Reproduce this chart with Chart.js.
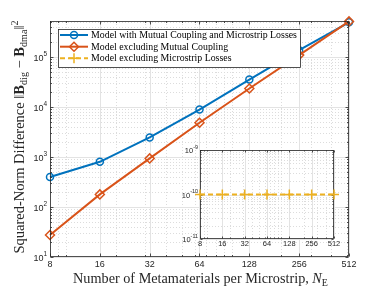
<!DOCTYPE html>
<html lang="en">
<head>
<meta charset="UTF-8">
<title>Squared-norm difference vs. metamaterials per microstrip</title>
<script src="https://cdn.jsdelivr.net/npm/chart.js@4.4.0/dist/chart.umd.min.js"></script>
<style>
    html, body { margin: 0; padding: 0; background: #fff; }
    #wrap { position: relative; width: 385px; height: 289px; }
    #main { position: absolute; left: 0; top: 0; }
    #inset { position: absolute; left: 175px; top: 140px; }
</style>
</head>
<body>
<div id="wrap">
    <canvas id="main" width="385" height="289"></canvas>
    <canvas id="inset" width="170" height="115"></canvas>
</div>
<script>
// data
const elements = [8, 16, 32, 64, 128, 256, 512];
const withCouplingAndLosses = [400, 805, 2470, 8950, 35700, 138000, 500000];
const noCoupling = [27.5, 179, 940, 4860, 23600, 110000, 520000];
const noLosses = [1e-10, 1e-10, 1e-10, 1e-10, 1e-10, 1e-10, 1e-10];
const seriesNames = [
    'Model with Mutual Coupling and Microstrip Losses',
    'Model excluding Mutual Coupling',
    'Model excluding Microstrip Losses'
];
const xTickValues = [8, 16, 32, 64, 128, 256, 512];
const mainYExponents = [1, 2, 3, 4, 5];
const insetYExponents = [-11, -10, -9];

const BLUE = '#0072BD', ORANGE = '#D95319', YELLOW = '#EDB120';
const AXIS = '#262626';
const SANS = '"Liberation Sans", Arial, sans-serif';
const SERIF = '"Liberation Serif", "DejaVu Serif", serif';

const toPoints = ys => elements.map((x, i) => ({ x: x, y: ys[i] }));

// log-spaced minor values (m x 10^k), skipping majors
function minorLog(min, max, skip) {
    const out = [];
    for (let k = Math.floor(Math.log10(min)); k <= Math.ceil(Math.log10(max)); k++) {
        for (let m = 1; m <= 9; m++) {
            const v = m * Math.pow(10, k);
            if (v > min * 1.0001 && v < max * 0.9999 && !skip.some(s => Math.abs(s - v) / v < 1e-6)) out.push(v);
        }
    }
    return out;
}

function seg(ctx, x1, y1, x2, y2) {
    ctx.beginPath(); ctx.moveTo(x1, y1); ctx.lineTo(x2, y2); ctx.stroke();
}

function drawGrid(ctx, chart, xMinor, yMinor, yMajor) {
    const a = chart.chartArea, xs = chart.scales.x, ys = chart.scales.y;
    ctx.save();
    ctx.lineWidth = 1;
    ctx.strokeStyle = '#dcdcdc';
    ctx.setLineDash([1, 2]);
    xMinor.forEach(v => { const p = Math.round(xs.getPixelForValue(v)) + 0.5; seg(ctx, p, a.top, p, a.bottom); });
    yMinor.forEach(v => { const p = Math.round(ys.getPixelForValue(v)) + 0.5; seg(ctx, a.left, p, a.right, p); });
    ctx.setLineDash([]);
    ctx.strokeStyle = '#e3e3e3';
    xTickValues.forEach(v => { const p = Math.round(xs.getPixelForValue(v)) + 0.5; seg(ctx, p, a.top, p, a.bottom); });
    yMajor.forEach(v => { const p = Math.round(ys.getPixelForValue(v)) + 0.5; seg(ctx, a.left, p, a.right, p); });
    ctx.restore();
}

function drawBoxAndTicks(ctx, chart, xMinor, yMinor, yMajor, len) {
    const a = chart.chartArea, xs = chart.scales.x, ys = chart.scales.y;
    const L = Math.round(a.left) + 0.5, R = Math.round(a.right) - 0.5;
    const T = Math.round(a.top) + 0.5, B = Math.round(a.bottom) - 0.5;
    ctx.save();
    ctx.strokeStyle = AXIS;
    ctx.lineWidth = 0.8;
    ctx.strokeRect(L, T, R - L, B - T);
    const tick = (vals, size) => {
        vals.forEach(v => {
            const p = Math.round(xs.getPixelForValue(v)) + 0.5;
            seg(ctx, p, B, p, B - size); seg(ctx, p, T, p, T + size);
        });
    };
    const ytick = (vals, size) => {
        vals.forEach(v => {
            const p = Math.round(ys.getPixelForValue(v)) + 0.5;
            seg(ctx, L, p, L + size, p); seg(ctx, R, p, R - size, p);
        });
    };
    tick(xTickValues, len); tick(xMinor, len / 2);
    ytick(yMajor, len); ytick(yMinor, len / 2);
    ctx.restore();
}

// "10^e" tick label, right aligned at x
function drawPow(ctx, exp, x, y, size) {
    const expSize = size * 0.72;
    ctx.font = expSize + 'px ' + SANS;
    const ew = ctx.measureText(String(exp)).width;
    ctx.font = size + 'px ' + SANS;
    const bw = ctx.measureText('10').width;
    ctx.textBaseline = 'middle';
    ctx.textAlign = 'left';
    ctx.fillText('10', x - ew - bw, y + size * 0.15);
    ctx.font = expSize + 'px ' + SANS;
    ctx.fillText(String(exp), x - ew, y - size * 0.35);
}

// rich text with sub/superscripts
function segFont(s, size) {
    const sz = (s.sub || s.sup) ? size * 0.7 : size;
    return (s.it ? 'italic ' : '') + (s.b ? 'bold ' : '') + sz + 'px ' + SERIF;
}
function richWidth(ctx, segs, size) {
    let w = 0;
    segs.forEach(s => { ctx.font = segFont(s, size); w += ctx.measureText(s.t).width; });
    return w;
}
function drawRich(ctx, segs, x, y, size) {
    let cx = x;
    segs.forEach(s => {
        ctx.font = segFont(s, size);
        const dy = s.sub ? size * 0.22 : s.sup ? -size * 0.42 : 0;
        ctx.fillText(s.t, cx, y + dy);
        cx += ctx.measureText(s.t).width;
    });
}
function fitSize(ctx, segs, target) {
    return 12 * target / richWidth(ctx, segs, 12);
}

const xLabel = [
    { t: 'Number of Metamaterials per Microstrip, ' },
    { t: 'N', it: true }, { t: 'E', sub: true }
];
const yLabel = [
    { t: 'Squared-Norm Difference \u2016' },
    { t: 'B', b: true }, { t: 'dig', sub: true },
    { t: ' \u2212 ' },
    { t: 'B', b: true }, { t: 'dma', sub: true },
    { t: '\u2016' }, { t: '2', sup: true }
];

function drawMarker(ctx, style, color, x, y) {
    ctx.save();
    ctx.strokeStyle = color;
    ctx.lineWidth = 1.5;
    ctx.setLineDash([]);
    ctx.beginPath();
    if (style === 'circle') {
        ctx.arc(x, y, 3.5, 0, Math.PI * 2);
    } else if (style === 'rectRot') {
        ctx.moveTo(x, y - 4.5); ctx.lineTo(x + 4.5, y); ctx.lineTo(x, y + 4.5); ctx.lineTo(x - 4.5, y); ctx.closePath();
    } else {
        ctx.moveTo(x - 5, y); ctx.lineTo(x + 5, y); ctx.moveTo(x, y - 5); ctx.lineTo(x, y + 5);
    }
    ctx.stroke();
    ctx.restore();
}

const legendItems = [
    { name: seriesNames[0], color: BLUE, style: 'circle', dash: [] },
    { name: seriesNames[1], color: ORANGE, style: 'rectRot', dash: [] },
    { name: seriesNames[2], color: YELLOW, style: 'cross', dash: [5, 3] }
];

const mainYMin = 10, mainYMax = 5.3e5;
const mainYMajor = mainYExponents.map(e => Math.pow(10, e));
const mainXMinor = minorLog(8, 512, xTickValues);
const mainYMinor = minorLog(mainYMin, mainYMax, mainYMajor);

const mainDecor = {
    id: 'mainDecor',
    beforeDatasetsDraw(chart) {
        drawGrid(chart.ctx, chart, mainXMinor, mainYMinor, mainYMajor);
    },
    afterDatasetsDraw(chart) {
        const ctx = chart.ctx;
        drawBoxAndTicks(ctx, chart, mainXMinor, mainYMinor, mainYMajor, 3);

        // legend
        ctx.save();
        ctx.fillStyle = '#fff';
        ctx.fillRect(58.5, 29.5, 242, 38);
        ctx.strokeStyle = AXIS;
        ctx.lineWidth = 0.8;
        ctx.strokeRect(58.5, 29.5, 242, 38);
        const lsize = fitSize(ctx, [{ t: seriesNames[0] }], 206);
        const rows = [35, 46.7, 58.3];
        legendItems.forEach((it, i) => {
            ctx.strokeStyle = it.color;
            ctx.lineWidth = 2;
            ctx.setLineDash(it.dash);
            seg(ctx, 60, rows[i], 88, rows[i]);
            drawMarker(ctx, it.style, it.color, 74, rows[i]);
            ctx.fillStyle = '#000';
            ctx.textBaseline = 'middle';
            ctx.textAlign = 'left';
            ctx.font = lsize + 'px ' + SERIF;
            ctx.fillText(it.name, 91, rows[i] + 0.5);
        });
        ctx.restore();
    },
    afterDraw(chart) {
        const ctx = chart.ctx;
        ctx.save();
        ctx.fillStyle = '#262626';
        // x tick labels
        ctx.font = '9px ' + SANS;
        ctx.textAlign = 'center';
        ctx.textBaseline = 'middle';
        xTickValues.forEach(v => ctx.fillText(String(v), chart.scales.x.getPixelForValue(v), 265));
        // y tick labels
        mainYMajor.forEach((v, i) => drawPow(ctx, mainYExponents[i], 47, chart.scales.y.getPixelForValue(v), 9));
        // axis titles
        ctx.textAlign = 'left';
        ctx.textBaseline = 'alphabetic';
        const xs = fitSize(ctx, xLabel, 255);
        drawRich(ctx, xLabel, 200.5 - richWidth(ctx, xLabel, xs) / 2, 283, xs);
        const ysz = fitSize(ctx, yLabel, 233);
        ctx.translate(24, 137);
        ctx.rotate(-Math.PI / 2);
        drawRich(ctx, yLabel, -richWidth(ctx, yLabel, ysz) / 2, 0, ysz);
        ctx.restore();
    }
};

new Chart(document.getElementById('main'), {
    type: 'line',
    data: {
        datasets: [{
            label: seriesNames[0],
            data: toPoints(withCouplingAndLosses),
            borderColor: BLUE,
            borderWidth: 2,
            pointStyle: 'circle',
            pointRadius: 3.5,
            pointBorderWidth: 1.5,
            pointBorderColor: BLUE,
            pointBackgroundColor: 'rgba(0,0,0,0)',
            order: 2,
            clip: false
        }, {
            label: seriesNames[1],
            data: toPoints(noCoupling),
            borderColor: ORANGE,
            borderWidth: 2,
            pointStyle: 'rectRot',
            pointRadius: 4.5,
            pointBorderWidth: 1.5,
            pointBorderColor: ORANGE,
            pointBackgroundColor: 'rgba(0,0,0,0)',
            order: 1,
            clip: false
        }]
    },
    options: {
        responsive: false,
        animation: false,
        events: [],
        layout: { padding: { left: 50, top: 21, right: 36, bottom: 32 } },
        scales: {
            x: { type: 'logarithmic', min: 8, max: 512, display: false },
            y: { type: 'logarithmic', min: mainYMin, max: mainYMax, display: false }
        },
        plugins: { legend: { display: false }, tooltip: { enabled: false } }
    },
    plugins: [mainDecor]
});

// inset: model without microstrip losses
const insetYMajor = insetYExponents.map(e => Math.pow(10, e));
const insetYMinor = minorLog(1e-11, 1e-9, insetYMajor);

const insetDecor = {
    id: 'insetDecor',
    beforeDatasetsDraw(chart) {
        const ctx = chart.ctx, a = chart.chartArea;
        ctx.save();
        ctx.fillStyle = '#fff';
        ctx.fillRect(a.left, a.top, a.right - a.left, a.bottom - a.top);
        ctx.restore();
        drawGrid(ctx, chart, mainXMinor, insetYMinor, insetYMajor);
        drawBoxAndTicks(ctx, chart, mainXMinor, insetYMinor, insetYMajor, 2);
    },
    afterDraw(chart) {
        const ctx = chart.ctx;
        ctx.save();
        ctx.fillStyle = '#262626';
        ctx.font = '7.5px ' + SANS;
        ctx.textAlign = 'center';
        ctx.textBaseline = 'middle';
        xTickValues.forEach(v => ctx.fillText(String(v), chart.scales.x.getPixelForValue(v), 104));
        insetYMajor.forEach((v, i) => drawPow(ctx, insetYExponents[i], 23, chart.scales.y.getPixelForValue(v), 7.5));
        ctx.restore();
    }
};

new Chart(document.getElementById('inset'), {
    type: 'line',
    data: {
        datasets: [{
            label: seriesNames[2],
            data: toPoints(noLosses),
            borderColor: YELLOW,
            borderWidth: 2,
            borderDash: [5, 3],
            pointStyle: 'cross',
            pointRadius: 5,
            pointBorderWidth: 1.5,
            pointBorderColor: YELLOW,
            clip: false
        }]
    },
    options: {
        responsive: false,
        animation: false,
        events: [],
        layout: { padding: { left: 25, top: 10, right: 11, bottom: 16 } },
        scales: {
            x: { type: 'logarithmic', min: 8, max: 512, display: false },
            y: { type: 'logarithmic', min: 1e-11, max: 1e-9, display: false }
        },
        plugins: { legend: { display: false }, tooltip: { enabled: false } }
    },
    plugins: [insetDecor]
});
</script>
</body>
</html>
